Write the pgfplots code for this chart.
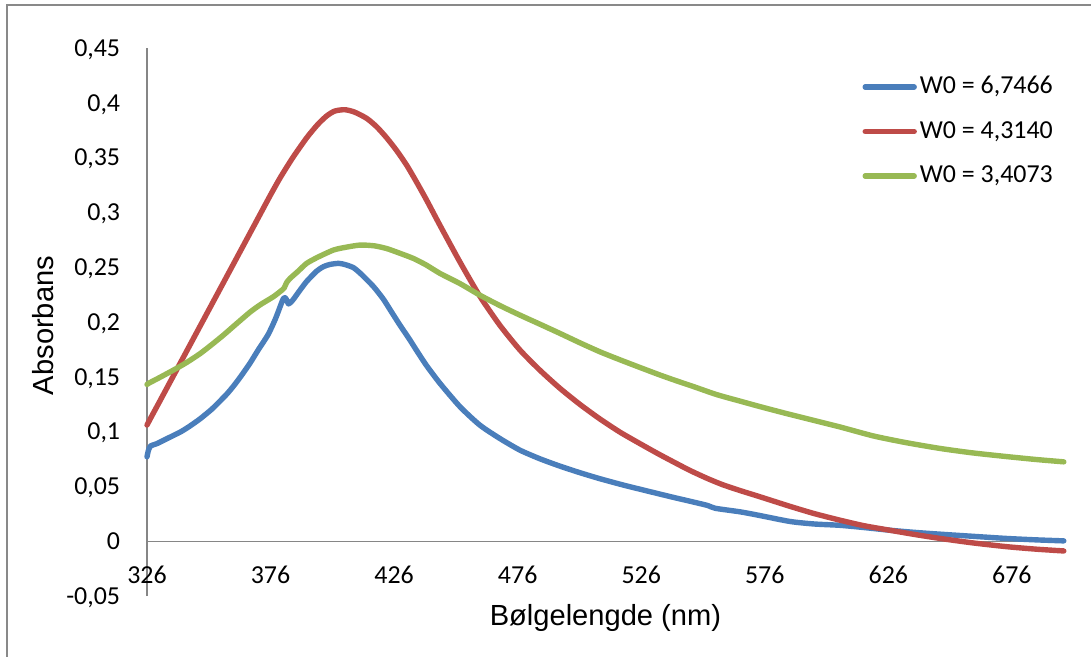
\documentclass[border=0pt]{standalone}
\usepackage{pgfplots}
\pgfplotsset{compat=1.18}
\usepackage{fontspec}
\setmainfont{Carlito}
\newfontfamily\arialf{Liberation Sans}
\definecolor{cblue}{HTML}{4A7EBB}
\definecolor{cred}{HTML}{BE4B48}
\definecolor{cgreen}{HTML}{98B954}
\definecolor{axisgray}{HTML}{868686}
\definecolor{framegray}{HTML}{898989}
\begin{document}
\begin{tikzpicture}
\begin{axis}[
  scale only axis, width=458.4bp, height=274bp,
  xmin=326, xmax=697, ymin=-0.05, ymax=0.45,
  axis x line=middle, axis y line=left,
  axis line style={draw=axisgray, line width=0.7bp, -},
  hide obscured x ticks=false, hide obscured y ticks=false,
  xtick={326,376,426,476,526,576,626,676},
  xticklabels={326,376,426,476,526,576,626,676},
  ytick={-0.05,0,0.05,0.1,0.15,0.2,0.25,0.3,0.35,0.4,0.45},
  yticklabels={{-0,05},{0},{0,05},{0,1},{0,15},{0,2},{0,25},{0,3},{0,35},{0,4},{0,45}},
  major tick length=0pt,
  tick label style={font=\fontsize{13}{15.6}\selectfont},
  xticklabel style={anchor=base, inner sep=0pt, yshift=-21.3bp},
  yticklabel style={anchor=base east, inner sep=0pt, xshift=-13.25bp, yshift=-4.1bp},
  xlabel={Bølgelengde (nm)}, ylabel={Absorbans},
  label style={font=\arialf\fontsize{14.6}{17}\selectfont},
  xlabel style={at={(axis description cs:0.5,-0.0547)}, anchor=base},
  ylabel style={at={(axis description cs:-0.1025,0.4936)}, anchor=base},
  legend style={draw=none, fill=none, at={(axis description cs:0.78,0.956)}, anchor=north west,
    inner sep=0pt, row sep=7.75bp, font=\fontsize{13}{15.6}\selectfont,
    nodes={inner sep=1.5bp, text height=9bp, text depth=2.5bp}},
  legend cell align=left,
  legend image code/.code={\draw[#1, line cap=round] (1.3bp,0bp) -- (25.8bp,0bp);},
  every axis plot/.append style={line width=2.7bp, line join=round, line cap=round, smooth, tension=0.4},
  clip=false,
]
\addplot[cblue] coordinates {
(326,0.077) (326.6,0.083) (327.5,0.087) (330,0.089) (334,0.0935) (339.4,0.0995) (343,0.1045)
(347.4,0.1115) (352,0.120) (354.2,0.1248) (358.2,0.1340) (361,0.1415) (364,0.1505) (367.7,0.1625)
(371,0.1745) (375,0.1885) (378,0.203) (381.2,0.2215) (382.3,0.221) (383.3,0.2165) (385,0.22)
(387.9,0.229) (390.6,0.237) (394.7,0.2465) (397.4,0.2505) (400,0.2525) (403.5,0.2535)
(406,0.2525) (409.6,0.2495) (413,0.243) (417.7,0.2322) (421.6,0.221) (425,0.209) (428.4,0.197)
(432,0.185) (435.1,0.174) (439.2,0.160) (444.6,0.1439) (452.7,0.1226) (460.7,0.1059)
(468.8,0.0937) (476.9,0.0831) (485,0.0752) (493.1,0.0685) (501.2,0.0625) (509.3,0.0570)
(518.8,0.0512) (529,0.0455) (539,0.0400) (547,0.0358) (553,0.0325) (556,0.0300) (566,0.0268)
(573.4,0.0237) (586.2,0.0180) (596,0.0157) (606.4,0.0145) (616,0.0125) (626.6,0.0100)
(637,0.0080) (647,0.0064) (660,0.0045) (673.9,0.0025) (686,0.0012) (697,0.0003)
};
\addlegendentry{W0 = 6,7466}
\addplot[cred] coordinates {
(326,0.106) (328,0.1145) (331,0.127) (336,0.148) (341,0.169) (346,0.190) (351,0.211)
(356,0.232) (361,0.253) (366,0.274) (371,0.295) (376,0.316) (380,0.332) (385,0.350)
(390.6,0.368) (395,0.380) (398.7,0.3880) (402,0.3925) (406.1,0.3937) (410,0.3915)
(414.9,0.3858) (419,0.378) (423,0.368) (427,0.3565) (431.1,0.3430) (435,0.328) (439.2,0.311)
(444.6,0.2880) (452.7,0.2545) (460.7,0.2235) (468.8,0.1970) (476.9,0.1745) (485,0.1560)
(493.1,0.1395) (501.2,0.1248) (509.3,0.1115) (517.4,0.0995) (525.5,0.0890) (532.9,0.0797)
(539,0.0724) (545.5,0.0648) (552.5,0.0575) (559,0.0515) (566,0.0462) (573.4,0.0410)
(586.2,0.0318) (596,0.0252) (606.4,0.0192) (616,0.0142) (626.6,0.0100) (637,0.0060)
(647,0.0025) (660,-0.0015) (673.9,-0.0050) (686,-0.0073) (697,-0.0089)
};
\addlegendentry{W0 = 4,3140}
\addplot[cgreen] coordinates {
(326,0.143) (327,0.1445) (330,0.148) (336.6,0.156) (342,0.163) (347.4,0.171) (352,0.179)
(356.9,0.188) (362,0.198) (367.7,0.209) (372,0.216) (377.1,0.223) (380,0.228) (381.5,0.231)
(382.5,0.236) (384,0.240) (387,0.246) (390.6,0.2535) (395,0.259) (401.4,0.2656) (406,0.268)
(412.2,0.2702) (418,0.2695) (423,0.267) (428,0.263) (433.8,0.258) (439,0.252) (444.6,0.2443)
(452.7,0.235) (460.7,0.2245) (468.8,0.215) (476.9,0.2063) (485,0.198) (493.1,0.1896)
(501.2,0.181) (509.3,0.1728) (517.4,0.1655) (525.5,0.1585) (532.9,0.1522) (539,0.1473)
(547,0.1412) (555.5,0.1345) (560,0.1315) (566,0.1278) (573.4,0.1232) (583,0.1175)
(593,0.1118) (606,0.1045) (620,0.0960) (633,0.0900) (647,0.0846) (660,0.0806)
(673.9,0.0772) (686,0.0745) (697,0.0724)
};
\addlegendentry{W0 = 3,4073}
\end{axis}
\draw[framegray, line width=0.75bp] (-70bp,-80bp) rectangle (540bp,295.5bp);
\pgfresetboundingbox
\useasboundingbox (-73.5bp,-30.5bp) rectangle (472bp,298bp);
\end{tikzpicture}
\end{document}
